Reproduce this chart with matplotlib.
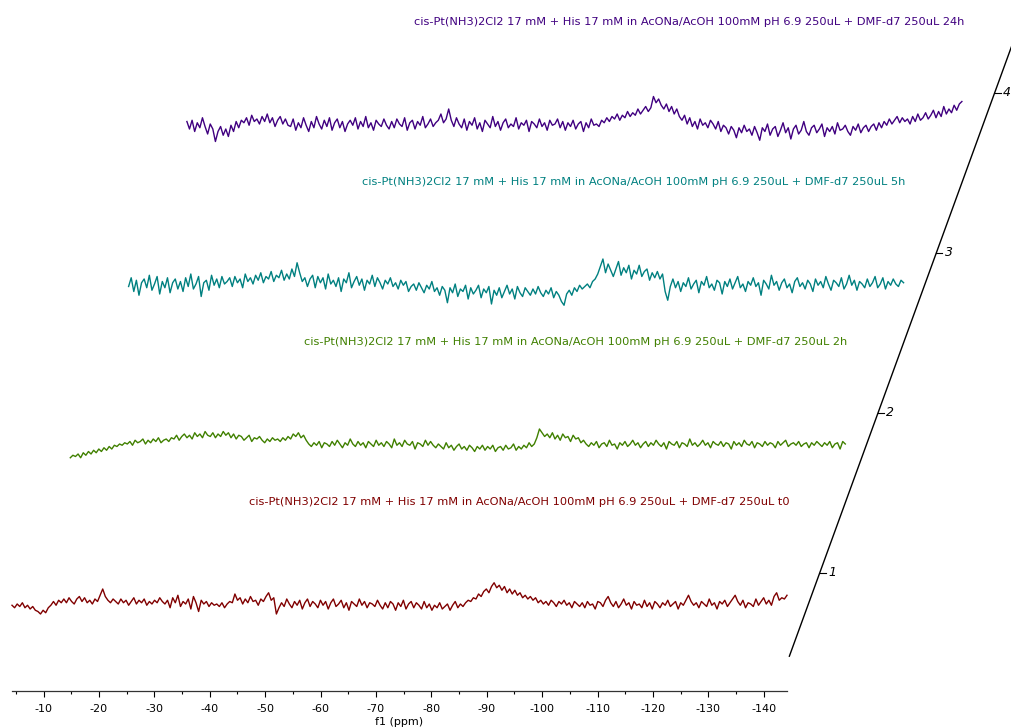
import numpy as np
import matplotlib
matplotlib.use('Agg')
import matplotlib.pyplot as plt
from matplotlib.transforms import ScaledTranslation, IdentityTransform
from matplotlib.lines import Line2D
from matplotlib.ticker import MultipleLocator

plt.rcParams['axes.unicode_minus'] = False

# ppm range shared by all traces
ppm_start, ppm_end = -4.3, -144.2

labels = [
    "cis-Pt(NH3)2Cl2 17 mM + His 17 mM in AcONa/AcOH 100mM pH 6.9 250uL + DMF-d7 250uL t0",
    "cis-Pt(NH3)2Cl2 17 mM + His 17 mM in AcONa/AcOH 100mM pH 6.9 250uL + DMF-d7 250uL 2h",
    "cis-Pt(NH3)2Cl2 17 mM + His 17 mM in AcONa/AcOH 100mM pH 6.9 250uL + DMF-d7 250uL 5h",
    "cis-Pt(NH3)2Cl2 17 mM + His 17 mM in AcONa/AcOH 100mM pH 6.9 250uL + DMF-d7 250uL 24h",
]
colors = ["#800000", "#408000", "#008080", "#400080"]
stack_ticks = [1, 2, 3, 4]

# intensities (arbitrary units), left to right
t0 = [-1, -3, 0, -2, 1, -3, -1, -4, -2, -5, -6, -8, -5, -7, -3, -1, 2, -1, 3, 1,
      4, 1, 5, 2, 0, 4, 6, 2, 5, 1, 3, 0, 4, 2, 7, 12, 6, 3, 1, 4,
      2, 0, 4, 1, 3, -1, 2, 5, 0, 3, 1, 4, -1, 2, 0, 3, 1, 5, 2, 0,
      3, -3, 5, 1, 7, -2, 2, 0, 4, -4, 6, 1, -6, 3, 0, 2, -2, 1, -1, 0,
      -2, 1, -3, 0, 2, 1, 8, 3, 5, 0, 4, 1, 6, 2, 3, -1, 4, 2, 6, 9,
      3, 5, -8, -3, 1, -2, 4, 0, -3, 2, -1, 3, -4, 1, 4, -2, 2, 0, -3, 3,
      -1, 2, -4, 1, 4, -2, 0, 3, -3, 1, -5, 2, 0, -2, 4, -1, 2, -3, 1, 0,
      -2, 3, -1, -4, 1, -3, 2, 0, -5, 1, -2, 3, -4, 0, 2, -3, 1, -1, -4, 2,
      -3, 0, -5, -1, -3, 1, -4, -2, 0, -5, -1, 2, -3, 0, -2, 1, 3, 2, 5, 4,
      8, 6, 10, 12, 9, 14, 17, 13, 15, 11, 14, 9, 12, 8, 11, 7, 9, 5, 7, 4,
      6, 3, 5, 1, 3, 0, 2, -1, 3, 1, -2, 2, 0, 3, -1, 1, -3, 2, 0, -2,
      1, -3, 2, -1, 0, -4, 2, 1, -2, 3, 6, 1, -2, 2, -3, 0, 4, -1, 1, -4,
      2, -1, 0, -3, 3, -2, 1, -4, 2, 0, -3, 1, -1, 3, -2, 0, 2, -4, 1, -1,
      3, 7, 2, -1, 1, -3, 2, 0, -2, 4, -1, 1, -4, 2, 0, 3, -2, 1, 4, 7,
      2, -1, 3, -3, 1, 0, -2, 4, -1, 2, 5, 0, 3, -1, 6, 9, 3, 5, 4, 7]

h2 = [-11, -9, -10, -8, -11, -7, -9, -6, -8, -5, -7, -4, -6, -3, -5, -2, -4, -1, -2, 0,
      -1, 1, 0, 2, -1, 3, 1, 2, 4, 0, 3, 1, 4, 2, 5, 1, 3, 4, 2, 5,
      4, 7, 3, 6, 8, 5, 7, 4, 9, 6, 8, 5, 10, 7, 6, 9, 5, 8, 6, 10,
      7, 9, 5, 8, 4, 7, 6, 3, 5, 7, 2, 5, 4, 6, 3, 1, 4, 2, 5, 3,
      4, 2, 5, 3, 6, 4, 8, 6, 9, 5, 7, 3, 0, -2, 1, -1, 2, -3, 1, 0,
      -2, 2, -1, 3, 0, -3, 1, -1, 4, 0, -2, 2, -1, 1, -3, 2, 0, -2, 3, -1,
      1, -2, 2, 0, -3, 4, -1, 1, -2, 3, 0, -1, 2, -4, 1, 0, -2, 3, -1, 2,
      -1, -3, 0, -2, -4, 1, -3, -1, -5, -2, 0, -4, -2, -5, -1, -3, -6, -2, -4, -1,
      -5, -2, -4, -1, -6, -3, -2, -5, -1, -4, -3, 0, -5, -2, -4, -1, -3, 1, -2, 0,
      5, 12, 9, 6, 8, 5, 9, 4, 7, 3, 8, 5, 6, 2, 7, 4, 5, 1, 3, 0,
      -2, 1, -1, 2, -3, 0, 1, -2, 3, -1, 0, -4, 1, -1, 2, -2, 0, 3, -1, 1,
      -3, 0, 2, -2, 1, -1, 3, 0, -2, 1, -4, 2, 0, -1, 2, -3, 1, 0, -2, 4,
      -1, 1, -2, 0, 3, -1, 1, -3, 2, 0, -1, 2, -2, 1, 0, -4, 2, -1, 1, -2,
      3, 0, -1, 2, -3, 1, 0, -2, 2, -1, 1, 0, -3, 2, -1, 1, 3, -2, 0, 1,
      -1, 2, -2, 0, 1, -3, 1, -1, 2, 0, -2, 1, -1, 2, -3, 0, 1, -4, 2, 0]

h5 = [-2, 5, -6, 3, -9, 1, 4, -3, 7, -5, 0, 6, -8, 2, -3, 5, -7, 1, 4, -4,
      2, -6, 5, -2, 8, -4, 0, 6, -10, 1, 3, -5, 7, -1, 4, -3, 6, 0, 2, 5,
      -2, 6, 1, 4, -3, 8, 2, 5, 0, 7, 3, 9, 1, 6, 4, 10, 2, 7, 5, 11,
      3, 8, 4, 12, 6, 17, 9, 2, 5, -2, 4, 7, -3, 6, 1, 5, -4, 8, 0, 3,
      -2, 5, -6, 4, 1, 9, -3, 2, 6, -1, 4, -5, 3, 0, 7, -2, 5, 1, -4, 3,
      0, 5, -2, 1, -4, 3, -1, 2, -6, -2, 0, -5, 1, -3, -7, -1, -4, 2, -6, -3,
      -9, -2, -5, -15, -3, -7, 0, -10, -4, -6, -1, -12, -3, -8, -5, -1, -11, -4, -7, -2,
      -16, -5, -9, -3, -11, -6, -1, -8, -4, -12, -2, -7, -10, -3, -6, -9, -4, -8, -2, -7,
      -10, -5, -8, -3, -11, -6, -9, -14, -17, -8, -5, -9, -3, -6, -1, -4, -2, 0, -3, 2,
      4, 8, 14, 20, 9, 16, 11, 6, 12, 18, 7, 13, 9, 15, 4, 11, 8, 15, 6, 10,
      12, 3, 9, 5, 10, 4, 8, -6, -13, -2, 4, -3, 2, -6, 1, -2, 5, -4, 0, 3,
      -7, 2, -1, 6, -3, 0, -5, 3, 1, -8, 2, -2, 4, -4, 1, 6, -3, 0, -6, 2,
      -1, 5, -2, 1, -9, 3, 0, -4, 7, -1, 2, -5, 1, 4, -3, 0, -7, 2, 5, -2,
      1, -4, 3, 0, -6, 4, -1, 2, -3, 6, 0, -5, 3, 1, -2, 5, -4, 0, 7, -1,
      3, -5, 2, 0, -3, 4, -2, 1, 6, -3, 0, 5, -4, 2, -1, 4, 0, -2, 3, 1]

h24 = [2, -4, 3, -6, 1, -3, 5, -2, -8, 0, -4, -14, -6, -2, -9, -4, -10, -1, -6, 2,
       -3, 3, 1, 5, -1, 7, 2, 4, 0, 6, 2, 8, 1, 5, -2, 3, 6, 0, 4, -1,
       -2, 4, -5, 1, -3, 5, -1, -6, 2, -3, 6, 0, -4, 3, -2, 5, -5, 1, 4, -3,
       2, -6, 0, 3, -1, 5, -4, 2, -2, 6, -3, 1, -5, 3, 0, -2, 4, -1, -4, 2,
       -3, 4, 0, -2, 5, -5, 1, 3, -4, 2, -1, 6, -3, 0, 4, -2, 1, 3, 8, 1,
       4, 12, 3, -2, 5, 0, -3, 4, -5, 2, -1, 5, -4, 1, -6, 3, 0, -3, 6, -2,
       2, -5, 1, 4, -3, 0, -2, 5, -4, 1, -1, 3, -6, 2, 0, -3, 4, -2, 1, -5,
       3, -1, 0, 4, -3, 2, -5, 1, -2, 3, -4, 0, 2, -6, 1, -3, 4, -1, 0, -2,
       3, 1, 5, 2, 6, 4, 8, 3, 7, 5, 10, 6, 9, 7, 12, 8, 11, 14, 10, 13,
       22, 17, 20, 15, 12, 16, 10, 14, 8, 12, 6, 3, 7, 0, 5, -2, 2, -4, 4, -1,
       1, -3, 3, 0, -4, 2, -6, -1, -3, -8, -2, -5, -11, -3, -7, -1, -6, -4, -9, -2,
       -7, -13, -3, -6, 0, -9, -4, -2, -10, -5, 1, -7, -3, -12, -4, -1, -8, -5, 2, -6,
       -9, -3, -1, -7, -4, 0, -10, -3, -6, -2, -8, 1, -5, -4, -1, -6, -9, -2, -5, 0,
       -7, -3, -1, -6, -2, 0, -5, 1, -3, 2, -1, 4, 0, 3, 6, 1, 5, 2, 4, 0,
       6, 2, 8, 3, 5, 9, 4, 7, 11, 5, 10, 6, 14, 8, 12, 9, 15, 11, 16, 18]

spectra = [t0, h2, h5, h24]

fig = plt.figure(figsize=(10.12, 7.28), dpi=100)
ax = fig.add_axes([12 / 1012, 37 / 728, 775 / 1012, 691 / 728])
ax.set_xlim(ppm_start, ppm_end)
# vertical gain: stretch the y scale so the traces look as tall as in the original
gain = 1.25
ax.set_ylim(-87 / gain, 604 / gain)

for s in ['left', 'top', 'right']:
    ax.spines[s].set_visible(False)
ax.spines['bottom'].set_color('#333333')
ax.spines['bottom'].set_linewidth(0.9)
ax.set_yticks([])
ax.xaxis.set_minor_locator(MultipleLocator(5))
ax.set_xticks(np.arange(-10, -141, -10))
ax.tick_params(axis='x', which='major', length=4.5, width=0.8, pad=4.5, labelsize=8)
ax.tick_params(axis='x', which='minor', length=2.2, width=0.8)
ax.set_xlabel('f1 (ppm)', fontsize=8, labelpad=2.5)

# stacking offset per trace, inches
step_x, step_y = 0.583, 1.60

for i, (vals, c, lab) in enumerate(zip(spectra, colors, labels)):
    off = ax.transData + ScaledTranslation(i * step_x, i * step_y, fig.dpi_scale_trans)
    ppm = np.linspace(ppm_start, ppm_end, len(vals))
    ax.plot(ppm, vals, color=c, lw=1.0, transform=off, clip_on=False)
    ax.text(ppm_end - 0.4, 102 / gain, lab, color=c, ha='right', va='center',
            fontsize=8.2, transform=off, clip_on=False)

# slanted stack axis
base_ppm, base_y = -150.1, 31 / gain
for k in stack_ticks:
    off = ax.transData + ScaledTranslation((k - 1) * step_x, (k - 1) * step_y, fig.dpi_scale_trans)
    ax.plot([base_ppm, base_ppm - 1.1], [base_y, base_y], color='black', lw=0.8,
            transform=off, clip_on=False)
    ax.text(base_ppm - 1.5, base_y, str(k), style='italic', fontsize=9,
            ha='left', va='center', transform=off, clip_on=False)

p = ax.transData.transform((base_ppm, base_y))
step = np.array([step_x, step_y]) * fig.dpi
lo = p + (-0.52) * step
hi = p + 3.3 * step
fig.add_artist(Line2D([lo[0], hi[0]], [lo[1], hi[1]], color='black', lw=1.0,
                      transform=IdentityTransform()))

fig.savefig('out.png', dpi=100)
